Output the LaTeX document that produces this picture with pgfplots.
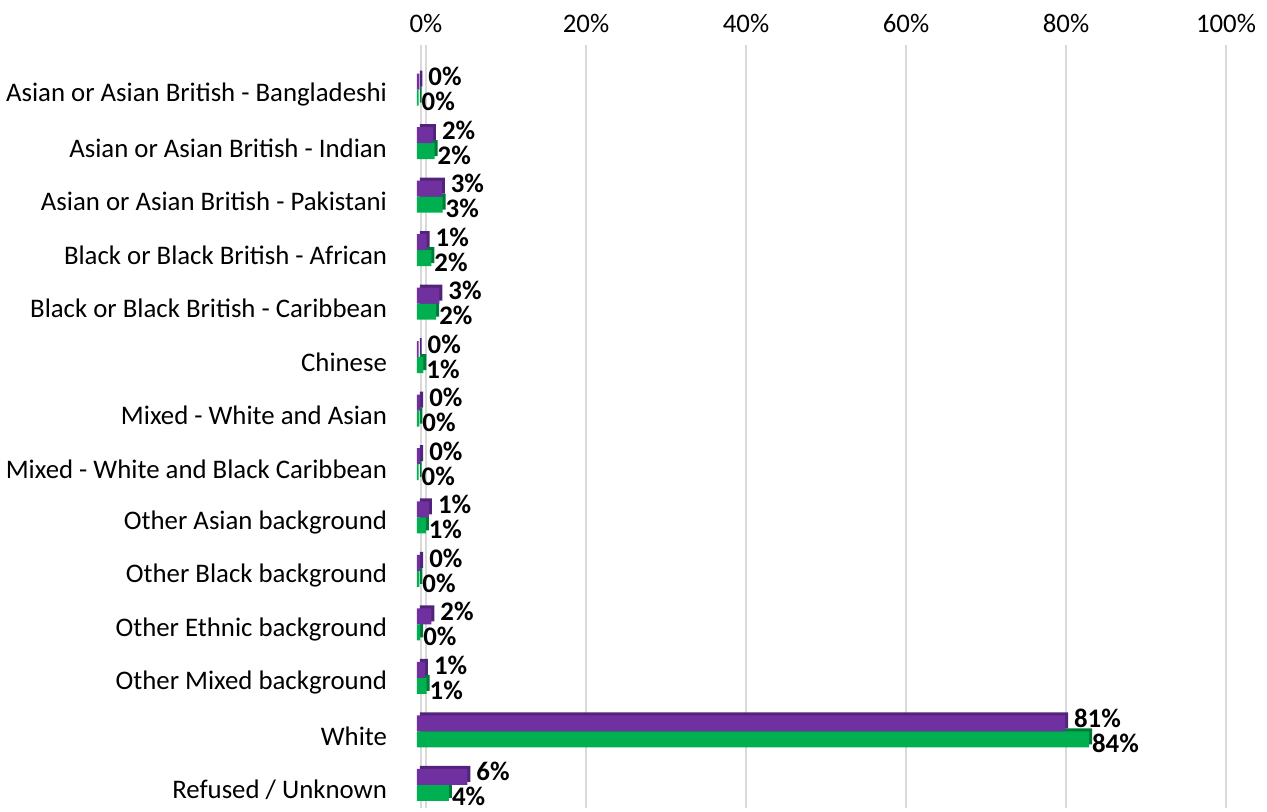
\documentclass[border=0pt]{standalone}
\usepackage{pgfplots}
\pgfplotsset{compat=1.18}
\usepackage{fontspec}
\setmainfont{Carlito}
\definecolor{pur}{HTML}{7030A0}
\definecolor{purd}{HTML}{52237A}
\definecolor{grn}{HTML}{00B050}
\definecolor{grnd}{HTML}{007A38}
\pgfplotstableread{
y  p     pl  g     gl
0  0.3   0   0.2   0
1  2.0   2   2.2   2
2  3.1   3   3.2   3
3  1.2   1   1.8   2
4  2.8   3   2.4   2
5  0.2   0   0.8   1
6  0.4   0   0.3   0
7  0.4   0   0.2   0
8  1.5   1   1.1   1
9  0.4   0   0.3   0
10 1.8   2   0.4   0
11 1.0   1   1.2   1
12 81.0  81  84.0  84
13 6.3   6   4.0   4
}\data
\begin{document}
\begin{tikzpicture}
\begin{axis}[name=ax, scale only axis, width=407pt, height=381.5pt,
  xbar, y dir=reverse,
  xmin=-1.75, xmax=100, ymin=-0.93, ymax=13.34,
  axis line style={draw=none}, major tick length=0pt,
  xtick={0,20,...,100}, xticklabel pos=upper,
  xticklabel={\pgfmathprintnumber{\tick}\%},
  xticklabel style={xshift=4.5pt, yshift=2.5pt, font=\fontsize{13.4}{15}\selectfont},
  /pgf/number format/assume math mode=true,
  xmajorgrids, grid style={xshift=4.5pt, line width=1.2pt, black!15},
  extra x ticks={-1.75}, extra x tick labels={},
  extra x tick style={xmajorgrids=true, grid style={xshift=4.5pt, line width=1.2pt, black!15}},
  ytick={0,...,13},
  yticklabels={Asian or Asian British - Bangladeshi, Asian or Asian British - Indian, Asian or Asian British - Pakistani, Black or Black British - African, Black or Black British - Caribbean, Chinese, Mixed - White and Asian, Mixed - White and Black Caribbean, Other Asian background, Other Black background, Other Ethnic background, Other Mixed background, White, Refused / Unknown},
  yticklabel style={xshift=-4.5pt, font=\fontsize{13.4}{15}\selectfont},
  bar width=8pt, clip=false,
]
% depth faces (green)
\addplot[fill=grnd, draw=none, bar shift=0pt, xshift=1.5pt, forget plot] table[x=g, y=y] {\data};
\addplot[fill=grn, draw=none, bar shift=-1.5pt,
  nodes near coords={\pgfplotspointmeta\%}, point meta=explicit symbolic,
  nodes near coords style={anchor=west, xshift=-2pt, yshift=-2pt, font=\fontsize{13.4}{15}\selectfont\bfseries}]
  table[x=g, y=y, meta=gl] {\data};
% depth faces (purple)
\addplot[fill=purd, draw=none, bar shift=8pt, xshift=1.5pt, forget plot] table[x=p, y=y] {\data};
\addplot[fill=pur, draw=none, bar shift=6.5pt,
  nodes near coords={\pgfplotspointmeta\%}, point meta=explicit symbolic,
  nodes near coords style={anchor=west, xshift=1pt, yshift=2.5pt, font=\fontsize{13.4}{15}\selectfont\bfseries}]
  table[x=p, y=y, meta=pl] {\data};
\end{axis}
\pgfresetboundingbox
\path ([xshift=-201.5pt,yshift=-2pt]ax.south west) rectangle ++(633.5pt,406pt);
\end{tikzpicture}
\end{document}
